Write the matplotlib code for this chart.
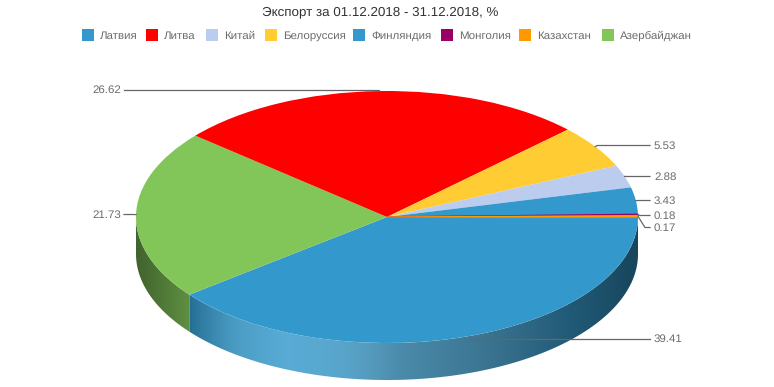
import numpy as np
import matplotlib
matplotlib.use('Agg')
from matplotlib import pyplot as plt
from matplotlib.patches import Polygon, Rectangle

plt.rcParams['font.family'] = ['Liberation Sans', 'DejaVu Sans']
plt.rcParams['text.hinting'] = 'no_hinting'

title = 'Экспорт за 01.12.2018 - 31.12.2018, %'
countries = ['Латвия', 'Литва', 'Китай', 'Белоруссия', 'Финляндия', 'Монголия', 'Казахстан', 'Азербайджан']
values = [39.41, 26.62, 2.88, 5.53, 3.43, 0.18, 0.17, 21.73]
colors = ['#3399CC', '#FF0000', '#BBCCEE', '#FFCC33', '#3399CC', '#990066', '#FF9900', '#82C65A']
# clockwise order of the slices, starting at 3 o'clock
draw_order = [0, 7, 1, 3, 2, 4, 5, 6]

W, H = 774, 387
CX, CY, RX, RY, DEPTH = 387, 217, 251, 126, 37
TEXT = '#6c6c6c'
FS = 8.25

# label layout in pixels
label_y = [338.5, 89.5, 176.5, 145.5, 200.5, 215.5, 227.5, 214.5]
label_right = [True, False, True, True, True, True, True, False]
elbow_dx = [0, 0, 2, 2, 2, 2, 7, -3]
swatch_x = [82, 146, 206, 265, 353, 441, 519, 602]


def px(x):
    return (x - CX) / RX


def py(y):
    return (CY - y) / RY


fig = plt.figure(figsize=(W / 100, H / 100), dpi=100)
ax = fig.add_axes([0, 0, 1, 1])
wedges, _ = ax.pie([values[i] for i in draw_order],
                   colors=[colors[i] for i in draw_order],
                   startangle=0, counterclock=False, radius=1, center=(0, 0),
                   wedgeprops={'linewidth': 0})
ax.set_aspect('auto')
ax.axis('off')

order_wedges = dict(zip(draw_order, wedges))
# the two tiny slices are a stroke wide in the original
for i in (5, 6):
    order_wedges[i].set_edgecolor(colors[i])
    order_wedges[i].set_linewidth(0.9)

total = sum(values)
dep = DEPTH / RY
xs = np.linspace(px(CX - RX), px(CX + RX), 502)
# wall lighting: overlay grey level and alpha along x
stop_x = [px(136), px(190), px(240), px(287), px(340), px(400), px(500), px(570), px(638)]
stop_g = [0, 0, 180, 255, 200, 114, 60, 10, 0]
stop_a = [0.5, 0.27, 0.2, 0.18, 0.25, 0.38, 0.44, 0.44, 0.55]
over_g = np.interp(xs, stop_x, stop_g)[None, :, None] / 255
over_a = np.interp(xs, stop_x, stop_a)[None, :, None]

# side wall of the front half, one clipped gradient per slice
start = 0.0
mids = {}
for i in draw_order:
    sweep = values[i] / total * 360
    mids[i] = np.radians(start + sweep / 2)
    a0, a1 = start, min(start + sweep, 180)
    if a0 < 180:
        t = np.radians(np.linspace(a0, a1, 200))
        top = np.column_stack([np.cos(t), -np.sin(t)])
        bottom = top[::-1] - [0, dep]
        poly = Polygon(np.vstack([top, bottom]), closed=True, transform=ax.transData,
                       facecolor='none', edgecolor='none')
        ax.add_patch(poly)
        rgb = np.array(matplotlib.colors.to_rgb(colors[i]))
        img = ax.imshow(rgb * (1 - over_a) + over_g * over_a,
                        extent=(xs[0], xs[-1], -1 - dep, 1),
                        aspect='auto', zorder=0.5, interpolation='bilinear')
        img.set_clip_path(poly)
    start += sweep
ax.set_xlim(px(0), px(W))
ax.set_ylim(py(H), py(0))

# leader lines and value labels
for i in range(len(values)):
    sx, sy = np.cos(mids[i]), -np.sin(mids[i])
    ly = py(label_y[i])
    elbow = sx + elbow_dx[i] / RX
    if label_right[i]:
        end = px(650)
        tx, ha = px(654), 'left'
    else:
        end = px(124)
        tx, ha = px(121.5), 'right'
    ax.plot([sx, elbow, end], [sy, ly, ly], color='#666666', lw=0.9, zorder=3,
            solid_joinstyle='round')
    ax.text(tx, py(label_y[i] + 0.5), f'{values[i]:.2f}', ha=ha, va='center', color=TEXT, fontsize=FS)

fig.text(380 / W, 1 - 11.5 / H, title, ha='center', va='center', color='#333333', fontsize=9.6)

# legend row, every baseline on the same line
for i, name in enumerate(countries):
    x0 = swatch_x[i]
    ax.add_patch(Rectangle((px(x0), py(41)), 12 / RX, 12 / RY, facecolor=colors[i], edgecolor='none'))
    ax.text(px(x0 + 18), py(38.5), name, ha='left', va='baseline', color=TEXT, fontsize=FS)

fig.savefig('out.png', dpi=100)
